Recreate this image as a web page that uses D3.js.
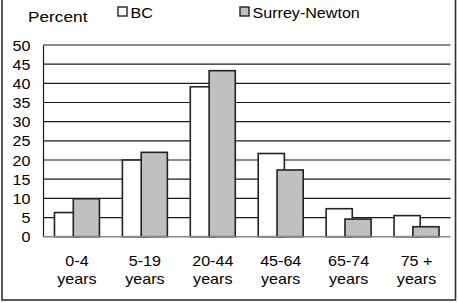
<!DOCTYPE html>
<html>
<head>
<meta charset="utf-8">
<script src="https://cdn.jsdelivr.net/npm/d3@7"></script>
<style>
  html, body { margin: 0; padding: 0; background: #fff; }
  svg { display: block; font-family: "Liberation Sans", Arial, sans-serif; }
</style>
</head>
<body>
<svg id="chart" width="458" height="303"></svg>
<script>
const categories = ["0-4|years", "5-19|years", "20-44|years", "45-64|years", "65-74|years", "75 +|years"];
const seriesNames = ["BC", "Surrey-Newton"];
const bcValues = [6.3, 20.0, 39.1, 21.7, 7.3, 5.5];
const snValues = [9.9, 22.0, 43.3, 17.4, 4.6, 2.6];
const yTicks = [0, 5, 10, 15, 20, 25, 30, 35, 40, 45, 50];
const seriesFill = ["#ffffff", "#c0c0c0"];

(function () {
const svg = d3.select("#chart");
const mLeft = 43, mRight = 450.5, mTop = 45, mBottom = 236.7;
const SX = 1.15;

const x = d3.scaleBand().domain(categories).range([mLeft, mRight]).padding(0);
const y = d3.scaleLinear().domain([0, 50]).range([mBottom, mTop]);

// outer border
svg.append("rect").attr("x", 2).attr("y", -3).attr("width", 453.5).attr("height", 303)
  .attr("fill", "none").attr("stroke", "#333").attr("stroke-width", 1.6);

// gridlines
svg.append("g").selectAll("line").data(yTicks.filter(d => d > 0)).join("line")
  .attr("x1", mLeft).attr("x2", mRight)
  .attr("y1", d => y(d)).attr("y2", d => y(d))
  .attr("stroke", "#1a1a1a").attr("stroke-width", 1.2);

// y axis
const yAxis = d3.axisLeft(y).tickValues(yTicks).tickSize(0).tickPadding(0);
const yg = svg.append("g").attr("transform", `translate(${mLeft},0)`).call(yAxis);
yg.attr("font-family", null).attr("font-size", null);
yg.select(".domain").attr("stroke", "#1a1a1a").attr("stroke-width", 1.2);
yg.selectAll("text").attr("x", 0).attr("dy", "0.36em")
  .attr("transform", `translate(-12.5,0) scale(${SX},1)`)
  .attr("font-size", 14).attr("fill", "#000").attr("text-anchor", "end");

// bars
const band = x.bandwidth();
const bw = band * 0.385;
const overlap = bw * 0.28;
const span = 2 * bw - overlap;
const series = [bcValues, snValues];
series.forEach((vals, si) => {
  svg.append("g").selectAll("rect").data(vals).join("rect")
    .attr("x", (d, i) => x(categories[i]) + band / 2 - span / 2 + si * (bw - overlap))
    .attr("y", d => y(d))
    .attr("width", bw)
    .attr("height", d => y(0) - y(d))
    .attr("fill", seriesFill[si])
    .attr("stroke", "#222").attr("stroke-width", 1.6);
});

// x axis line
svg.append("line").attr("x1", mLeft).attr("x2", mRight).attr("y1", y(0)).attr("y2", y(0))
  .attr("stroke", "#888").attr("stroke-width", 1.6);

// x labels
const xl = svg.append("g").selectAll("text").data(categories).join("text")
  .attr("text-anchor", "middle").attr("font-size", 14).attr("fill", "#000")
  .attr("transform", d => `translate(${x(d) + band / 2},0) scale(${SX},1)`);
xl.each(function(d) {
  const parts = d.split("|");
  const t = d3.select(this);
  parts.forEach((p, k) => {
    t.append("tspan").attr("x", 0).attr("y", 266 + k * 18).text(p);
  });
});

// "Percent" label
svg.append("text").attr("transform", `translate(28,22) scale(${SX},1)`)
  .attr("font-size", 15).attr("fill", "#000").text("Percent");

// legend
const legendX = [118, 240];
seriesNames.forEach((name, i) => {
  svg.append("rect").attr("x", legendX[i]).attr("y", 7).attr("width", 9).attr("height", 9)
    .attr("fill", seriesFill[i]).attr("stroke", "#222").attr("stroke-width", 1.4);
  svg.append("text").attr("transform", `translate(${legendX[i] + 12.5},17.5) scale(${SX},1)`)
    .attr("font-size", 14).attr("fill", "#000").text(name);
});
})();
</script>
</body>
</html>
